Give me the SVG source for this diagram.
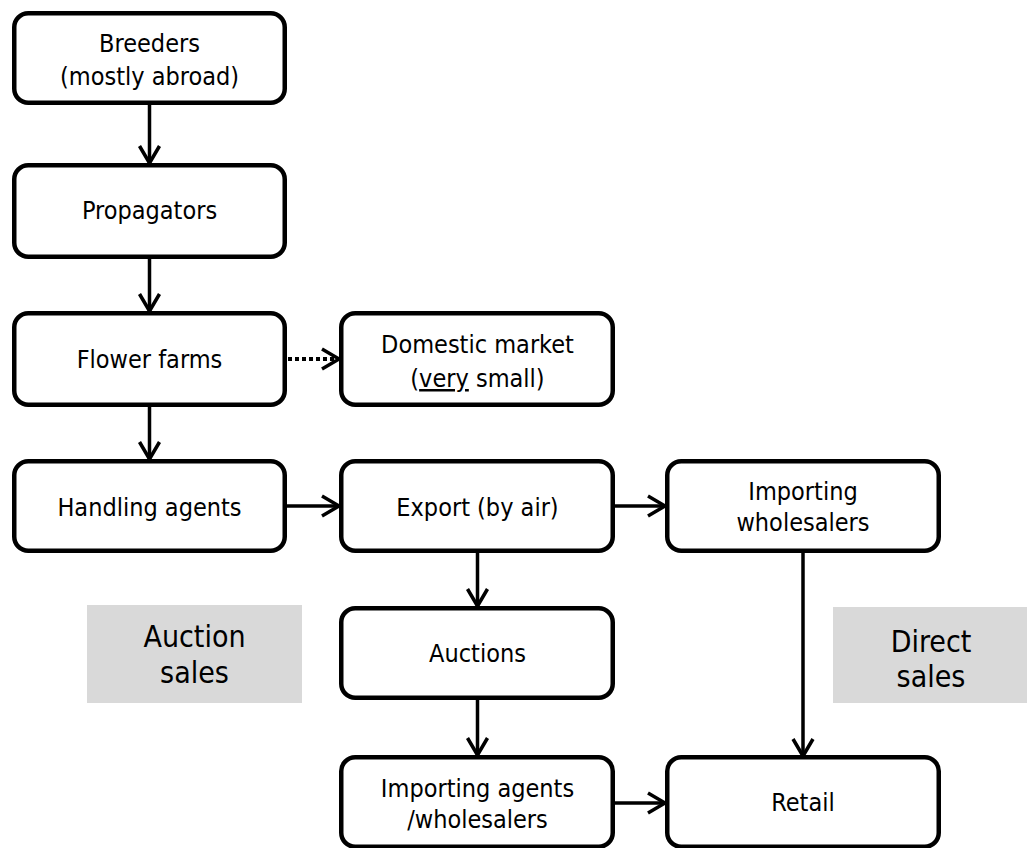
<svg xmlns="http://www.w3.org/2000/svg" width="1027" height="848" viewBox="0 0 1027 848">
<style>
.box{fill:#fff;stroke:#000;stroke-width:4.5}
.lbl{font-family:"DejaVu Sans Condensed","Liberation Sans",sans-serif;font-size:25px;fill:#000;text-anchor:middle}
.big{font-size:30px}
.gray{fill:#d9d9d9}
.con{stroke:#000;stroke-width:3.5;fill:none}
.dot{stroke-dasharray:4 3;stroke-width:4}
</style>
<defs>
<marker id="arr" markerUnits="userSpaceOnUse" markerWidth="24" markerHeight="26" refX="20" refY="13" orient="auto" overflow="visible">
<path d="M3 3 L20 13 L3 23" fill="none" stroke="#000" stroke-width="3.5" stroke-linejoin="round"/>
</marker>
</defs>
<rect class="gray" x="87" y="605" width="215" height="98"/>
<text class="lbl big" x="194.5" y="647">Auction</text>
<text class="lbl big" x="194.5" y="683">sales</text>
<rect class="gray" x="833" y="607" width="197" height="96"/>
<text class="lbl big" x="931" y="652">Direct</text>
<text class="lbl big" x="931" y="687">sales</text>
<g id="connectors">
<line class="con" x1="149.5" y1="105" x2="149.5" y2="163" marker-end="url(#arr)"/>
<line class="con" x1="149.5" y1="259" x2="149.5" y2="311" marker-end="url(#arr)"/>
<line class="con" x1="149.5" y1="407" x2="149.5" y2="459" marker-end="url(#arr)"/>
<line class="con dot" x1="288" y1="359" x2="339" y2="359" marker-end="url(#arr)"/>
<line class="con" x1="287" y1="506" x2="339" y2="506" marker-end="url(#arr)"/>
<line class="con" x1="615" y1="506" x2="665" y2="506" marker-end="url(#arr)"/>
<line class="con" x1="477.5" y1="553" x2="477.5" y2="606" marker-end="url(#arr)"/>
<line class="con" x1="477.5" y1="700" x2="477.5" y2="755" marker-end="url(#arr)"/>
<line class="con" x1="803" y1="553" x2="803" y2="756" marker-end="url(#arr)"/>
<line class="con" x1="615" y1="803" x2="665" y2="803" marker-end="url(#arr)"/>
</g>
<g id="breeders">
<rect class="box" x="14.25" y="13.25" width="270.5" height="89.5" rx="14"/>
<text class="lbl" x="149.5" y="52">Breeders</text>
<text class="lbl" x="149.5" y="85">(mostly abroad)</text>
</g>
<g id="propagators">
<rect class="box" x="14.25" y="165.25" width="270.5" height="91.5" rx="14"/>
<text class="lbl" x="149.5" y="219">Propagators</text>
</g>
<g id="flower-farms">
<rect class="box" x="14.25" y="313.25" width="270.5" height="91.5" rx="14"/>
<text class="lbl" x="149.5" y="368">Flower farms</text>
</g>
<g id="domestic-market">
<rect class="box" x="341.25" y="313.25" width="271.5" height="91.5" rx="14"/>
<text class="lbl" x="477.5" y="353">Domestic market</text>
<text class="lbl" x="477.5" y="387">(<tspan text-decoration="underline">very</tspan> small)</text>
</g>
<g id="handling-agents">
<rect class="box" x="14.25" y="461.25" width="270.5" height="89.5" rx="14"/>
<text class="lbl" x="149.5" y="516">Handling agents</text>
</g>
<g id="export">
<rect class="box" x="341.25" y="461.25" width="271.5" height="89.5" rx="14"/>
<text class="lbl" x="477.5" y="516">Export (by air)</text>
</g>
<g id="importing-wholesalers">
<rect class="box" x="667.25" y="461.25" width="271.5" height="89.5" rx="14"/>
<text class="lbl" x="803" y="500">Importing</text>
<text class="lbl" x="803" y="531">wholesalers</text>
</g>
<g id="auctions">
<rect class="box" x="341.25" y="608.25" width="271.5" height="89.5" rx="14"/>
<text class="lbl" x="477.5" y="662">Auctions</text>
</g>
<g id="importing-agents">
<rect class="box" x="341.25" y="757.25" width="271.5" height="89.5" rx="14"/>
<text class="lbl" x="477.5" y="797">Importing agents</text>
<text class="lbl" x="477.5" y="828">/wholesalers</text>
</g>
<g id="retail">
<rect class="box" x="667.25" y="757.25" width="271.5" height="89.5" rx="14"/>
<text class="lbl" x="803" y="811">Retail</text>
</g>
</svg>
